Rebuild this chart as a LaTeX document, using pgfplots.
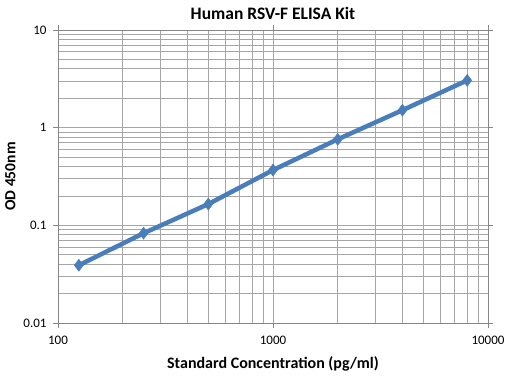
\documentclass[border=0pt]{standalone}
\usepackage{pgfplots}
\pgfplotsset{compat=1.18}
\usepackage{fontspec}
\setmainfont{Carlito}
\definecolor{lineblue}{HTML}{4A7EBB}
\definecolor{gridgray}{HTML}{A6A6A6}
\definecolor{axisgray}{HTML}{868686}
\begin{document}
\begin{tikzpicture}[x=1pt,y=1pt]
\useasboundingbox (0,0) rectangle (508,377);
\begin{axis}[
  at={(58pt,54pt)}, anchor=south west,
  scale only axis, width=430pt, height=293pt,
  xmode=log, ymode=log,
  xmin=100, xmax=10000, ymin=0.01, ymax=10,
  xtick={100,1000,10000}, xticklabels={100,1000,10000},
  ytick={0.01,0.1,1,10}, yticklabels={0.01,0.1,1,10},
  tick align=outside, major tick length=5pt, minor tick length=0pt,
  tick style={axisgray, line width=0.8pt},
  xmajorgrids, ymajorgrids, xminorgrids, yminorgrids,
  major grid style={gridgray, line width=0.8pt},
  minor grid style={gridgray, line width=0.8pt},
  axis line style={axisgray, line width=0.8pt},
  ticklabel style={font=\fontsize{13}{15}\selectfont},
  xticklabel style={yshift=-5pt},
  yticklabel style={xshift=-3pt},
  title={\textbf{Human RSV-F ELISA Kit}},
  title style={font=\fontsize{17.5}{20}\selectfont, at={(0.5,1)}, yshift=1pt},
  xlabel={\textbf{Standard Concentration (pg/ml)}},
  xlabel style={font=\fontsize{16}{18}\selectfont, yshift=-5pt},
  ylabel={\textbf{OD 450nm}},
  ylabel style={font=\fontsize{15.5}{18}\selectfont, yshift=1pt},
]
\addplot[lineblue, line width=4.5pt, mark=diamond*, mark size=6pt,
  mark options={fill=lineblue, draw=lineblue, line width=0.5pt}]
  coordinates {(125,0.039) (250,0.083) (500,0.165) (1000,0.368) (2000,0.76) (4000,1.51) (8000,3.05)};
\end{axis}
\end{tikzpicture}
\end{document}
